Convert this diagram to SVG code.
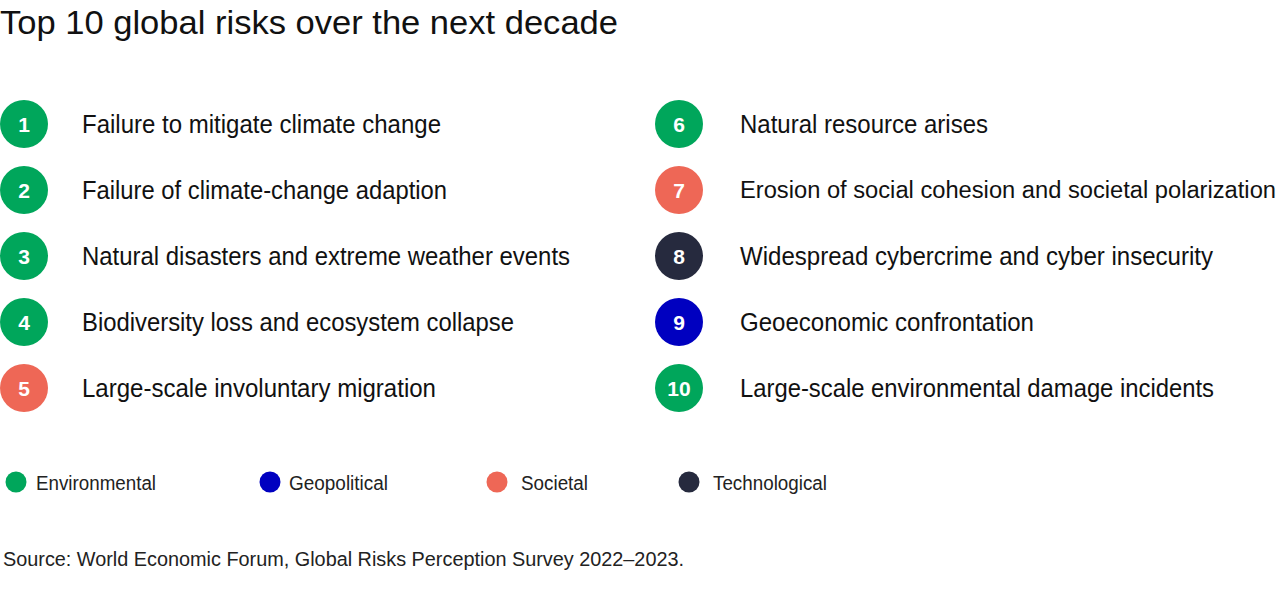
<svg xmlns="http://www.w3.org/2000/svg" width="1280" height="590" viewBox="0 0 1280 590">
<style>
  text { font-family: "Liberation Sans Narrow", "Liberation Sans", Arial, sans-serif; fill: #111111; }
  .title { font-size: 34px; }
  .label { font-size: 25px; }
  .label.long { font-size: 23px; }
  .num { font-size: 21px; font-weight: bold; fill: #ffffff; text-anchor: middle; }
  .leg { font-size: 20px; fill: #222222; }
  .src { font-size: 20px; fill: #222222; }
  .env { fill: #00A65B; }
  .geo { fill: #0000C0; }
  .soc { fill: #EE6756; }
  .tech { fill: #262A3E; }
</style>
<rect width="1280" height="590" fill="#ffffff"/>
<text class="title" x="0" y="34" textLength="618" lengthAdjust="spacingAndGlyphs">Top 10 global risks over the next decade</text>

<g id="risk1"><circle class="env" cx="24" cy="124" r="24"/><text class="num" x="24" y="131.5">1</text><text class="label" x="82" y="132.5" textLength="359" lengthAdjust="spacingAndGlyphs">Failure to mitigate climate change</text></g>
<g id="risk2"><circle class="env" cx="24" cy="190" r="24"/><text class="num" x="24" y="197.5">2</text><text class="label" x="82" y="198.5" textLength="365" lengthAdjust="spacingAndGlyphs">Failure of climate-change adaption</text></g>
<g id="risk3"><circle class="env" cx="24" cy="256" r="24"/><text class="num" x="24" y="263.5">3</text><text class="label" x="82" y="264.5" textLength="488" lengthAdjust="spacingAndGlyphs">Natural disasters and extreme weather events</text></g>
<g id="risk4"><circle class="env" cx="24" cy="322" r="24"/><text class="num" x="24" y="329.5">4</text><text class="label" x="82" y="330.5" textLength="432" lengthAdjust="spacingAndGlyphs">Biodiversity loss and ecosystem collapse</text></g>
<g id="risk5"><circle class="soc" cx="24" cy="388" r="24"/><text class="num" x="24" y="395.5">5</text><text class="label" x="82" y="396.5" textLength="354" lengthAdjust="spacingAndGlyphs">Large-scale involuntary migration</text></g>

<g id="risk6"><circle class="env" cx="679" cy="124" r="24"/><text class="num" x="679" y="131.5">6</text><text class="label" x="740" y="132.5" textLength="248" lengthAdjust="spacingAndGlyphs">Natural resource arises</text></g>
<g id="risk7"><circle class="soc" cx="679" cy="190" r="24"/><text class="num" x="679" y="197.5">7</text><text class="label long" x="740" y="198" textLength="536" lengthAdjust="spacingAndGlyphs">Erosion of social cohesion and societal polarization</text></g>
<g id="risk8"><circle class="tech" cx="679" cy="256" r="24"/><text class="num" x="679" y="263.5">8</text><text class="label" x="740" y="264.5" textLength="473" lengthAdjust="spacingAndGlyphs">Widespread cybercrime and cyber insecurity</text></g>
<g id="risk9"><circle class="geo" cx="679" cy="322" r="24"/><text class="num" x="679" y="329.5">9</text><text class="label" x="740" y="330.5" textLength="294" lengthAdjust="spacingAndGlyphs">Geoeconomic confrontation</text></g>
<g id="risk10"><circle class="env" cx="679" cy="388" r="24"/><text class="num" x="679" y="395.5">10</text><text class="label" x="740" y="396.5" textLength="474" lengthAdjust="spacingAndGlyphs">Large-scale environmental damage incidents</text></g>

<g id="connectors"></g>

<g id="legend">
  <circle class="env" cx="16" cy="482" r="10.5"/><text class="leg" x="36" y="490" textLength="120" lengthAdjust="spacingAndGlyphs">Environmental</text>
  <circle class="geo" cx="270" cy="482" r="10.5"/><text class="leg" x="289" y="490" textLength="99" lengthAdjust="spacingAndGlyphs">Geopolitical</text>
  <circle class="soc" cx="497" cy="482" r="10.5"/><text class="leg" x="521" y="490" textLength="67" lengthAdjust="spacingAndGlyphs">Societal</text>
  <circle class="tech" cx="689" cy="482" r="10.5"/><text class="leg" x="713" y="490" textLength="114" lengthAdjust="spacingAndGlyphs">Technological</text>
</g>

<text class="src" x="3" y="566" textLength="681" lengthAdjust="spacingAndGlyphs">Source: World Economic Forum, Global Risks Perception Survey 2022–2023.</text>
</svg>
